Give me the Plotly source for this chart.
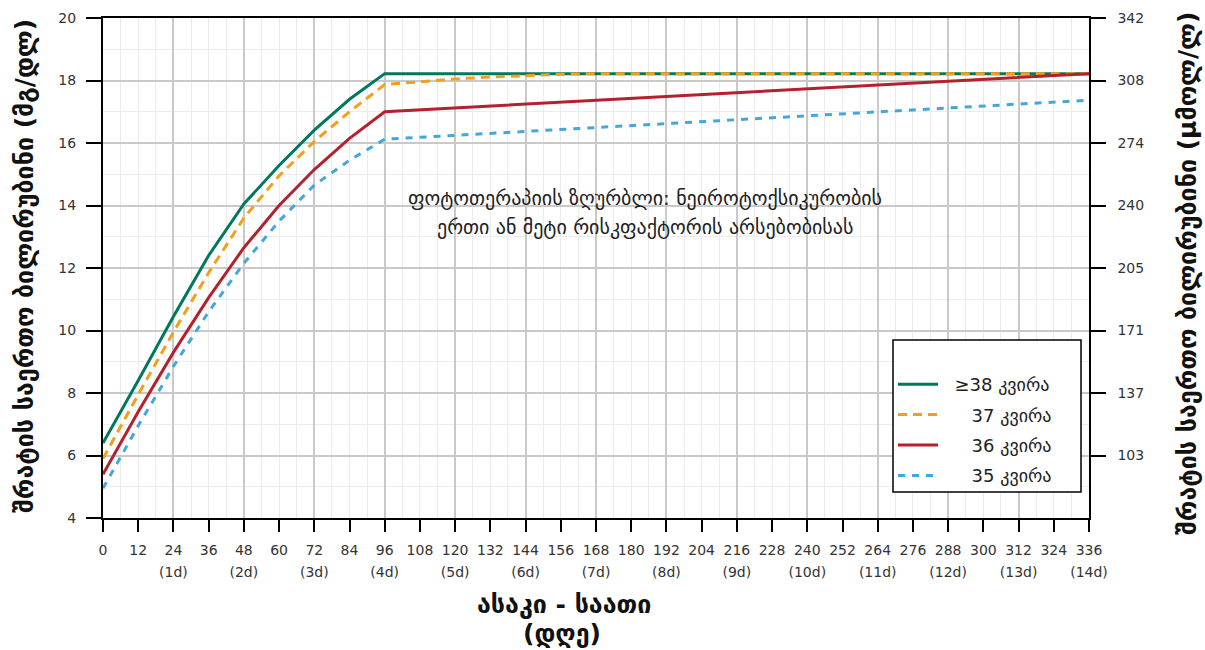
import plotly.graph_objects as go

# ---------------- data ----------------
hours_38 = [0, 12, 24, 36, 48, 60, 72, 84, 96, 336]
tsb_38 = [6.4, 8.4, 10.45, 12.4, 14.05, 15.28, 16.41, 17.4, 18.22, 18.22]

hours_37 = [0, 12, 24, 36, 48, 60, 72, 84, 96, 108, 120, 132, 144, 156, 168, 336]
tsb_37 = [5.9, 7.95, 9.95, 11.85, 13.6, 14.95, 16.05, 17.0, 17.87, 17.97, 18.05, 18.11, 18.16, 18.2, 18.22, 18.22]

hours_36 = [0, 12, 24, 36, 48, 60, 72, 84, 96, 336]
tsb_36 = [5.4, 7.4, 9.3, 11.05, 12.65, 14.0, 15.15, 16.15, 17.0, 18.22]

hours_35 = [0, 12, 24, 36, 48, 60, 72, 84, 96, 336]
tsb_35 = [4.95, 6.95, 8.85, 10.6, 12.15, 13.5, 14.65, 15.45, 16.12, 17.37]

NB = "\u00a0"
series_names = [NB * 2 + "≥38 კვირა", NB * 5 + "37 კვირა",
                NB * 5 + "36 კვირა", NB * 5 + "35 კვირა"]

x_tick_vals = list(range(0, 337, 12))
x_tick_text = [str(v) for v in x_tick_vals]
day_tick_vals = list(range(24, 337, 24))
day_tick_text = ["(%dd)" % (v // 24) for v in day_tick_vals]

y_tick_vals = [4, 6, 8, 10, 12, 14, 16, 18, 20]
y_tick_text = [str(v) for v in y_tick_vals]
umol_tick_text = ["103", "137", "171", "205", "240", "274", "308", "342"]
MGDL_TO_UMOL = 17.1

annotation_lines = ["ფოტოთერაპიის ზღურბლი: ნეიროტოქსიკურობის",
                    "ერთი ან მეტი რისკფაქტორის არსებობისას"]
left_title = "შრატის საერთო ბილირუბინი (მგ/დლ)"
right_title = "შრატის საერთო ბილირუბინი (μმოლ/ლ)"
x_title_1 = "ასაკი - საათი"
x_title_2 = "(დღე)"

# ---------------- styles ----------------
FONT = "DejaVu Sans"
colors = ["#00785e", "#f29f1c", "#b5202e", "#45a6dd"]
dashes = ["solid", "9px,6px", "solid", "7px,7px"]

fig = go.Figure()
for i, (hx, vy) in enumerate([(hours_38, tsb_38), (hours_37, tsb_37),
                              (hours_36, tsb_36), (hours_35, tsb_35)]):
    fig.add_trace(go.Scatter(
        x=hx, y=vy, mode="lines", name=series_names[i],
        legendgroup="g%d" % i,
        line=dict(color=colors[i], width=3, dash=dashes[i]),
        xaxis="x", yaxis="y",
    ))

W, H = 1205, 650
L, R, T, B = 103, 116, 18, 132
pw, ph = W - L - R, H - T - B

def px_x(p):
    return (p - L) / pw

def px_y(p):
    return (H - B - p) / ph

axis_font = dict(family=FONT, size=14, color="#333333")

fig.update_layout(
    width=W, height=H,
    margin=dict(l=L, r=R, t=T, b=B, pad=0, autoexpand=False),
    plot_bgcolor="white", paper_bgcolor="white",
    font=dict(family=FONT, color="#222222"),
    showlegend=True,
    legend=dict(
        x=px_x(893), y=px_y(366), xanchor="left", yanchor="top",
        bgcolor="rgba(0,0,0,0)", borderwidth=0,
        font=dict(family=FONT, size=18, color="#222222"),
        tracegroupgap=4, traceorder="grouped",
        itemwidth=40,
    ),
    xaxis=dict(
        range=[0, 336], tickmode="array", tickvals=x_tick_vals, ticktext=x_tick_text,
        showgrid=False, zeroline=False, showline=True, linecolor="black", linewidth=1.5,
        mirror=True, ticks="outside", ticklen=12, tickwidth=1.5, tickcolor="black",
        tickfont=axis_font, tickangle=0, ticklabelstandoff=6,
    ),
    xaxis2=dict(
        range=[0, 336], overlaying="x", side="top", showticklabels=False, ticks="",
        showgrid=True, gridcolor="#c9c9c9", gridwidth=1.5, tickmode="linear", tick0=0, dtick=24,
        minor=dict(tickmode="linear", tick0=0, dtick=6, showgrid=True, gridcolor="#ececec", gridwidth=1),
        zeroline=False, showline=False,
    ),
    xaxis3=dict(
        range=[0, 336], overlaying="x", side="bottom", anchor="y",
        tickmode="array", tickvals=day_tick_vals, ticktext=day_tick_text,
        ticks="outside", ticklen=41, tickcolor="rgba(0,0,0,0)",
        showgrid=False, zeroline=False, showline=False, tickfont=axis_font, tickangle=0,
    ),
    yaxis=dict(
        range=[4, 20], tickmode="array", tickvals=y_tick_vals, showticklabels=False,
        showgrid=True, gridcolor="#c9c9c9", gridwidth=1.5,
        minor=dict(tickmode="linear", tick0=4, dtick=1, showgrid=True, gridcolor="#ececec", gridwidth=1),
        zeroline=False, showline=True, linecolor="black", linewidth=1.5,
        ticks="outside", ticklen=15, tickwidth=1.5, tickcolor="black",
    ),
    yaxis3=dict(
        range=[4, 20], overlaying="y", side="left", anchor="x",
        tickmode="array", tickvals=y_tick_vals, ticktext=y_tick_text,
        ticks="outside", ticklen=23, tickcolor="rgba(0,0,0,0)",
        showgrid=False, zeroline=False, showline=False, tickfont=axis_font,
    ),
    yaxis2=dict(
        range=[4 * MGDL_TO_UMOL, 20 * MGDL_TO_UMOL], overlaying="y", side="right",
        anchor="x", tickmode="array",
        tickvals=[v * MGDL_TO_UMOL for v in y_tick_vals[1:]],
        ticktext=[NB * 2 + t for t in umol_tick_text],
        showgrid=False, zeroline=False, showline=True, linecolor="black", linewidth=1.5,
        ticks="outside", ticklen=15, tickwidth=1.5, tickcolor="black",
        tickfont=axis_font,
    ),
)

# invisible helper traces so overlay axes are drawn
fig.add_trace(go.Scatter(x=[0], y=[4 * MGDL_TO_UMOL], xaxis="x2", yaxis="y2", mode="markers",
                         marker=dict(opacity=0), showlegend=False, hoverinfo="skip"))
fig.add_trace(go.Scatter(x=[0], y=[4], xaxis="x3", yaxis="y", mode="markers",
                         marker=dict(opacity=0), showlegend=False, hoverinfo="skip"))
fig.add_trace(go.Scatter(x=[0], y=[4], xaxis="x", yaxis="y3", mode="markers",
                         marker=dict(opacity=0), showlegend=False, hoverinfo="skip"))

# white background behind annotation text and legend box
fig.add_shape(type="rect", xref="paper", yref="paper",
              x0=px_x(400), x1=px_x(885), y0=px_y(258), y1=px_y(184),
              fillcolor="white", line=dict(width=0), layer="between")
fig.add_shape(type="rect", xref="paper", yref="paper",
              x0=px_x(893), x1=px_x(1081), y0=px_y(492), y1=px_y(340),
              fillcolor="white", line=dict(color="black", width=1.5), layer="above")

# annotation text
for txt, yp in zip(annotation_lines, [198, 227]):
    fig.add_annotation(text=txt, xref="paper", yref="paper", x=px_x(645), y=px_y(yp),
                       showarrow=False, xanchor="center", yanchor="middle",
                       font=dict(family=FONT, size=20, color="#222222"))

# axis titles
fig.add_annotation(text="<b>%s</b>" % left_title, xref="paper", yref="paper",
                   x=px_x(24), y=px_y(266), textangle=-90, showarrow=False,
                   xanchor="center", yanchor="middle",
                   font=dict(family=FONT, size=25, color="#111111"))
fig.add_annotation(text="<b>%s</b>" % right_title, xref="paper", yref="paper",
                   x=px_x(1187), y=px_y(274), textangle=-90, showarrow=False,
                   xanchor="center", yanchor="middle",
                   font=dict(family=FONT, size=25, color="#111111"))
fig.add_annotation(text="<b>%s</b>" % x_title_1, xref="paper", yref="paper",
                   x=px_x(564), y=px_y(604), showarrow=False,
                   xanchor="center", yanchor="middle",
                   font=dict(family=FONT, size=25, color="#111111"))
fig.add_annotation(text="<b>%s</b>" % x_title_2, xref="paper", yref="paper",
                   x=px_x(562), y=px_y(633), showarrow=False,
                   xanchor="center", yanchor="middle",
                   font=dict(family=FONT, size=25, color="#111111"))

fig.write_html("out.html", config={"displayModeBar": False},
               post_script="document.body.style.margin='0';")
